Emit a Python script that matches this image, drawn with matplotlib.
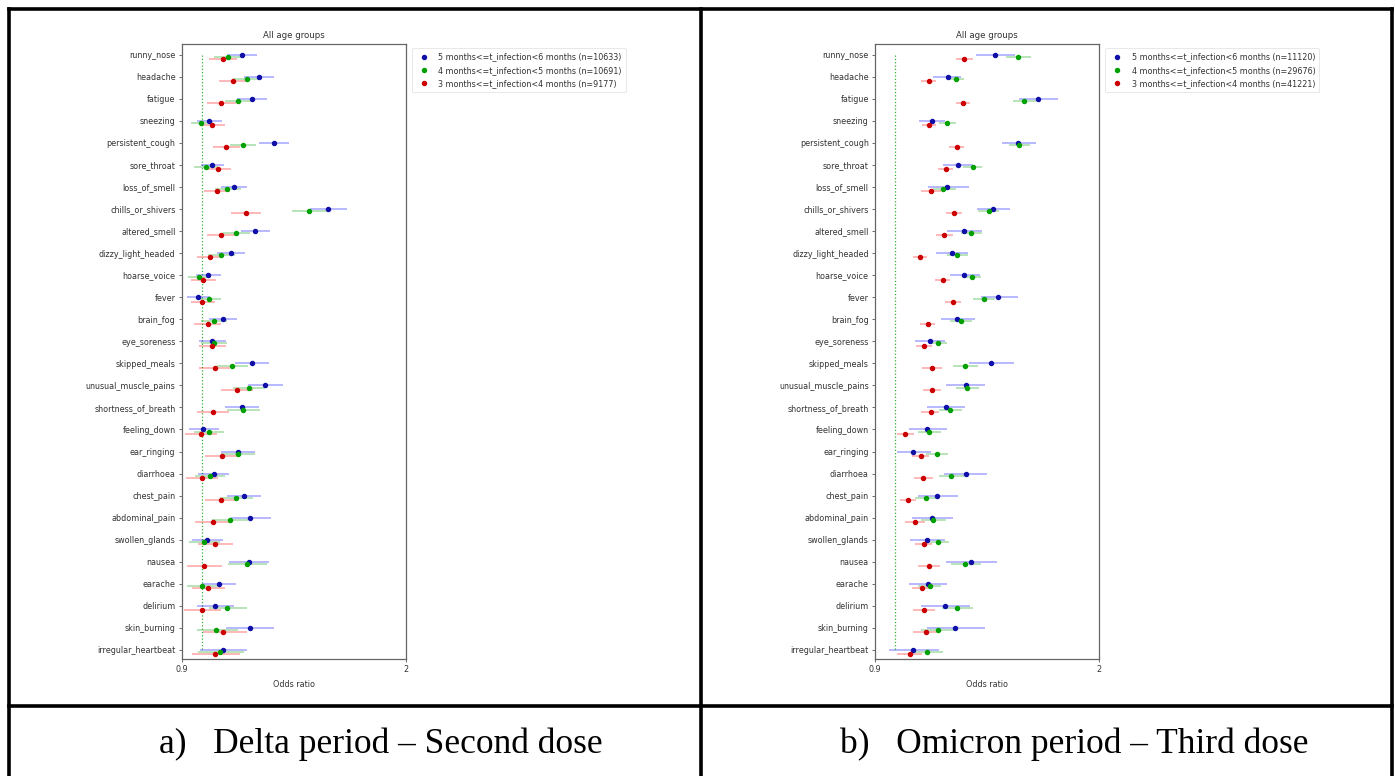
import matplotlib
matplotlib.use("Agg")
import matplotlib.pyplot as plt
from matplotlib.lines import Line2D
import numpy as np

symptoms = ['runny_nose', 'headache', 'fatigue', 'sneezing', 'persistent_cough',
            'sore_throat', 'loss_of_smell', 'chills_or_shivers', 'altered_smell',
            'dizzy_light_headed', 'hoarse_voice', 'fever', 'brain_fog', 'eye_soreness',
            'skipped_meals', 'unusual_muscle_pains', 'shortness_of_breath', 'feeling_down',
            'ear_ringing', 'diarrhoea', 'chest_pain', 'abdominal_pain', 'swollen_glands',
            'nausea', 'earache', 'delirium', 'skin_burning', 'irregular_heartbeat']

# ---- Delta period, second dose ----
delta_labels = ['5 months<=t_infection<6 months (n=10633)',
                '4 months<=t_infection<5 months (n=10691)',
                '3 months<=t_infection<4 months (n=9177)']
delta_m56 = [1.196, 1.281, 1.245, 1.036, 1.355, 1.051, 1.157, 1.617, 1.258, 1.142, 1.028, 0.980, 1.101, 1.049,
             1.244, 1.311, 1.196, 1.006, 1.178, 1.059, 1.204, 1.237, 1.026, 1.229, 1.082, 1.062, 1.234, 1.101]
delta_m56_lo = [1.124, 1.206, 1.173, 0.977, 1.281, 0.993, 1.093, 1.530, 1.190, 1.075, 0.970, 0.925, 1.034, 0.987,
                1.162, 1.226, 1.113, 0.934, 1.093, 0.982, 1.121, 1.144, 0.951, 1.134, 0.998, 0.974, 1.118, 0.990]
delta_m56_hi = [1.268, 1.355, 1.317, 1.096, 1.429, 1.108, 1.222, 1.713, 1.332, 1.209, 1.091, 1.039, 1.170, 1.119,
                1.330, 1.396, 1.281, 1.082, 1.262, 1.134, 1.291, 1.337, 1.105, 1.329, 1.167, 1.159, 1.353, 1.222]
delta_m45 = [1.129, 1.219, 1.178, 0.995, 1.200, 1.018, 1.124, 1.525, 1.167, 1.093, 0.987, 1.034, 1.057, 1.057,
             1.149, 1.232, 1.201, 1.034, 1.178, 1.037, 1.167, 1.137, 1.010, 1.221, 0.999, 1.124, 1.070, 1.088]
delta_m45_lo = [1.060, 1.154, 1.114, 0.944, 1.137, 0.962, 1.064, 1.442, 1.101, 1.029, 0.929, 0.977, 0.995, 0.993,
                1.072, 1.154, 1.121, 0.962, 1.095, 0.967, 1.088, 1.051, 0.938, 1.129, 0.926, 1.034, 0.974, 0.982]
delta_m45_hi = [1.200, 1.286, 1.247, 1.055, 1.265, 1.077, 1.190, 1.612, 1.236, 1.162, 1.046, 1.091, 1.121, 1.124,
                1.226, 1.311, 1.283, 1.109, 1.258, 1.113, 1.252, 1.224, 1.087, 1.321, 1.078, 1.222, 1.178, 1.206]
delta_m34 = [1.101, 1.154, 1.093, 1.051, 1.116, 1.077, 1.072, 1.216, 1.093, 1.037, 1.005, 1.001, 1.028, 1.049,
             1.062, 1.172, 1.054, 0.995, 1.098, 0.999, 1.093, 1.054, 1.065, 1.010, 1.029, 0.999, 1.101, 1.065]
delta_m34_lo = [1.034, 1.085, 1.024, 0.990, 1.052, 1.015, 1.011, 1.141, 1.026, 0.974, 0.944, 0.944, 0.962, 0.983,
                0.987, 1.095, 0.974, 0.918, 1.013, 0.923, 1.016, 0.967, 0.982, 0.926, 0.951, 0.911, 1.006, 0.952]
delta_m34_hi = [1.173, 1.224, 1.165, 1.111, 1.186, 1.144, 1.137, 1.290, 1.164, 1.105, 1.067, 1.062, 1.095, 1.118,
                1.137, 1.249, 1.131, 1.072, 1.180, 1.077, 1.170, 1.137, 1.150, 1.100, 1.113, 1.091, 1.219, 1.186]

# ---- Omicron period, third dose ----
omicron_labels = ['5 months<=t_infection<6 months (n=11120)',
                  '4 months<=t_infection<5 months (n=29676)',
                  '3 months<=t_infection<4 months (n=41221)']
omi_m56 = [1.491, 1.258, 1.701, 1.181, 1.604, 1.307, 1.256, 1.480, 1.335, 1.276, 1.338, 1.506, 1.304, 1.169,
           1.471, 1.348, 1.248, 1.156, 1.089, 1.345, 1.204, 1.178, 1.156, 1.371, 1.161, 1.243, 1.291, 1.086]
omi_m56_lo = [1.398, 1.187, 1.606, 1.115, 1.522, 1.235, 1.159, 1.401, 1.253, 1.199, 1.266, 1.419, 1.223, 1.095,
              1.363, 1.251, 1.156, 1.069, 1.007, 1.238, 1.112, 1.081, 1.072, 1.251, 1.069, 1.128, 1.156, 0.969]
omi_m56_hi = [1.586, 1.324, 1.798, 1.245, 1.691, 1.381, 1.363, 1.565, 1.425, 1.355, 1.414, 1.604, 1.389, 1.243,
              1.585, 1.442, 1.342, 1.253, 1.174, 1.450, 1.306, 1.281, 1.243, 1.501, 1.253, 1.368, 1.440, 1.214]
omi_m45 = [1.601, 1.296, 1.634, 1.256, 1.609, 1.379, 1.235, 1.460, 1.371, 1.304, 1.376, 1.435, 1.324, 1.210,
           1.343, 1.352, 1.268, 1.166, 1.204, 1.273, 1.148, 1.187, 1.209, 1.343, 1.169, 1.304, 1.209, 1.156]
omi_m45_lo = [1.542, 1.261, 1.577, 1.215, 1.558, 1.333, 1.184, 1.406, 1.320, 1.253, 1.327, 1.381, 1.269, 1.168,
              1.281, 1.297, 1.212, 1.110, 1.148, 1.212, 1.094, 1.128, 1.155, 1.273, 1.113, 1.228, 1.128, 1.086]
omi_m45_hi = [1.664, 1.335, 1.691, 1.297, 1.660, 1.425, 1.297, 1.511, 1.425, 1.355, 1.422, 1.488, 1.376, 1.253,
              1.406, 1.412, 1.325, 1.223, 1.258, 1.335, 1.204, 1.250, 1.263, 1.421, 1.225, 1.381, 1.294, 1.233]
omi_m34 = [1.335, 1.166, 1.332, 1.166, 1.301, 1.248, 1.176, 1.288, 1.240, 1.122, 1.232, 1.281, 1.159, 1.141,
           1.181, 1.181, 1.173, 1.049, 1.125, 1.138, 1.061, 1.097, 1.141, 1.164, 1.130, 1.141, 1.150, 1.072]
omi_m34_lo = [1.297, 1.128, 1.297, 1.133, 1.265, 1.210, 1.128, 1.251, 1.199, 1.086, 1.197, 1.243, 1.122, 1.100,
              1.133, 1.136, 1.128, 1.007, 1.081, 1.092, 1.022, 1.048, 1.095, 1.113, 1.084, 1.086, 1.086, 1.010]
omi_m34_hi = [1.381, 1.200, 1.368, 1.199, 1.337, 1.283, 1.223, 1.327, 1.281, 1.156, 1.268, 1.320, 1.197, 1.179,
              1.227, 1.223, 1.215, 1.092, 1.164, 1.186, 1.102, 1.146, 1.179, 1.219, 1.174, 1.196, 1.217, 1.130]

captions = ['a)   Delta period \u2013 Second dose', 'b)   Omicron period \u2013 Third dose']

dot_colors = ['#1010a8', '#00a000', '#cc0000']
line_colors = ['#0000ff', '#00a000', '#ff0000']
offsets = [0.0, 0.1, 0.2]

W, H = 1395, 776
fig = plt.figure(figsize=(W / 100, H / 100), dpi=100)
fig.patch.set_facecolor('white')

def fx(px):
    return px / W

def fy(py):
    return 1 - py / H

FS = 5.8

def draw_panel(left_px, series, labels):
    ax = fig.add_axes([fx(left_px), fy(659), fx(224), (659 - 44) / H])
    y = np.arange(len(symptoms))
    for k, (m, lo, hi) in enumerate(series):
        yy = y + offsets[k]
        ax.hlines(yy, lo, hi, color=line_colors[k], alpha=0.3, lw=1.3, zorder=2)
    for k, (m, lo, hi) in enumerate(series):
        yy = y + offsets[k]
        ax.plot(m, yy, 'o', color=dot_colors[k], ms=2.9, ls='none', label=labels[k], zorder=3)
    ax.plot([1.0, 1.0], [0, len(symptoms) - 1], ls=':', color='#30b030', lw=0.9, zorder=1)
    ax.set_xlim(0.9, 2.0)
    ax.set_ylim(27.41, -0.48)
    ax.set_yticks(y)
    ax.set_yticklabels(symptoms, fontsize=FS, color='#333333')
    ax.set_xticks([0.9, 2.0])
    ax.set_xticklabels(['0.9', '2'], fontsize=FS, color='#333333')
    ax.tick_params(axis='both', length=2.5, width=0.6, color='#555555', pad=2)
    ax.set_xlabel('Odds ratio', fontsize=FS, color='#333333', labelpad=4)
    ax.set_title('All age groups', fontsize=6.2, color='#333333', pad=4)
    for s in ax.spines.values():
        s.set_color('#666666')
        s.set_linewidth(0.9)
    leg = ax.legend(loc='upper left', bbox_to_anchor=(1.027, 0.993), borderaxespad=0,
                    fontsize=FS, numpoints=1, handlelength=2.0, handletextpad=0.8,
                    labelspacing=0.55, borderpad=0.5, frameon=True, fancybox=True)
    leg.get_frame().set_edgecolor('#dddddd')
    leg.get_frame().set_linewidth(0.6)
    for t in leg.get_texts():
        t.set_color('#333333')
    return ax

draw_panel(181.7, [(delta_m56, delta_m56_lo, delta_m56_hi),
                   (delta_m45, delta_m45_lo, delta_m45_hi),
                   (delta_m34, delta_m34_lo, delta_m34_hi)], delta_labels)
draw_panel(875, [(omi_m56, omi_m56_lo, omi_m56_hi),
                 (omi_m45, omi_m45_lo, omi_m45_hi),
                 (omi_m34, omi_m34_lo, omi_m34_hi)], omicron_labels)

# table frame
lw = 2.6
def hline(py, x0, x1):
    fig.add_artist(Line2D([fx(x0), fx(x1)], [fy(py), fy(py)], color='black', lw=lw,
                          solid_capstyle='projecting'))

def vline(px, y0, y1):
    fig.add_artist(Line2D([fx(px), fx(px)], [fy(y0), fy(y1)], color='black', lw=lw,
                          solid_capstyle='projecting'))

hline(9, 8.8, 1392.3)
hline(706, 8.8, 1392.3)
vline(8.8, 9, 780)
vline(700.8, 9, 780)
vline(1392.3, 9, 780)

fig.text(fx(159), fy(744), captions[0], fontsize=25.5, family='Liberation Serif',
         ha='left', va='center', color='black')
fig.text(fx(840), fy(744), captions[1], fontsize=25.5, family='Liberation Serif',
         ha='left', va='center', color='black')

fig.savefig('out.png', dpi=100, facecolor='white')
